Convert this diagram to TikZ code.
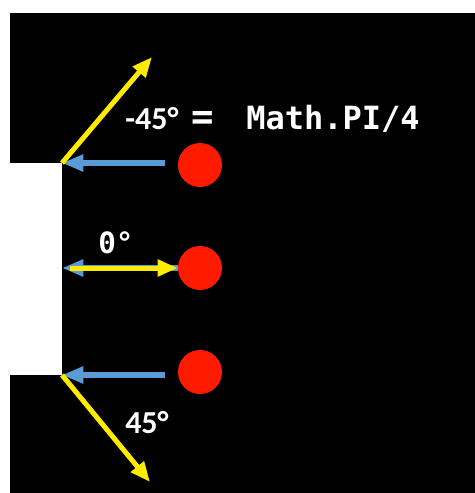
\documentclass[tikz,border=0pt]{standalone}
\usepackage{fontspec}
\setsansfont{Carlito}
\setmonofont{DejaVu Sans Mono}
\usetikzlibrary{positioning, arrows.meta}
\definecolor{pYellow}{HTML}{FFEB00}
\definecolor{pBlue}{HTML}{5B9BD5}
\definecolor{pRed}{HTML}{FF1A00}

\begin{document}
\begin{tikzpicture}[
  x=0.75pt, y=-0.75pt,
  ball/.style={circle, fill=pRed, minimum size=33pt, inner sep=0pt},
  hit/.style={draw=pBlue, line width=4.5pt,
              -{Triangle[length=16pt, width=12pt]}},
  bounce/.style={draw=pYellow, line width=3.75pt,
                 -{Triangle[length=15pt, width=12pt]}},
  angtxt/.style={text=white, inner sep=0pt, anchor=base west,
                 font=\sffamily\bfseries\fontsize{24}{28}\selectfont},
]
  % background and paddle
  \fill[white] (0,0) rectangle (475,493);
  \fill[black] (10,13) rectangle (475,493);
  \fill[white] (0,163) rectangle (62,375);
  \useasboundingbox (0,0) rectangle (475,493);

  \coordinate (top)  at (62,163);
  \coordinate (mid)  at (62,268);
  \coordinate (bot)  at (62,375);
  \coordinate (upR)  at (152,57);
  \coordinate (dnR)  at (150,482);

  \node[ball] (b1) at (200,165) {};
  \node[ball] (b2) at (200,268) {};
  \node[ball] (b3) at (200,372) {};

  \draw[hit] (165,163) -- (top);
  \draw[hit] (b2.west) -- (mid);
  \draw[hit] (165,375) -- (bot);

  \draw[bounce] (top) -- (upR);
  \draw[bounce] (70,268) -- (b2.west);
  \draw[bounce] (bot) -- (dnR);

  \node[angtxt] (t1) at (125,129)
    {-45°\hspace{10pt}{\ttfamily\fontsize{28}{28}\selectfont=}%
     \hspace{24pt}{\ttfamily\fontsize{24}{28}\selectfont Math.PI/4}};
  \node[angtxt, font=\ttfamily\bfseries\fontsize{22}{26}\selectfont]
    (t2) at (98,253) {0°};
  \node[angtxt] (t3) at (125,433) {45°};
\end{tikzpicture}
\end{document}
